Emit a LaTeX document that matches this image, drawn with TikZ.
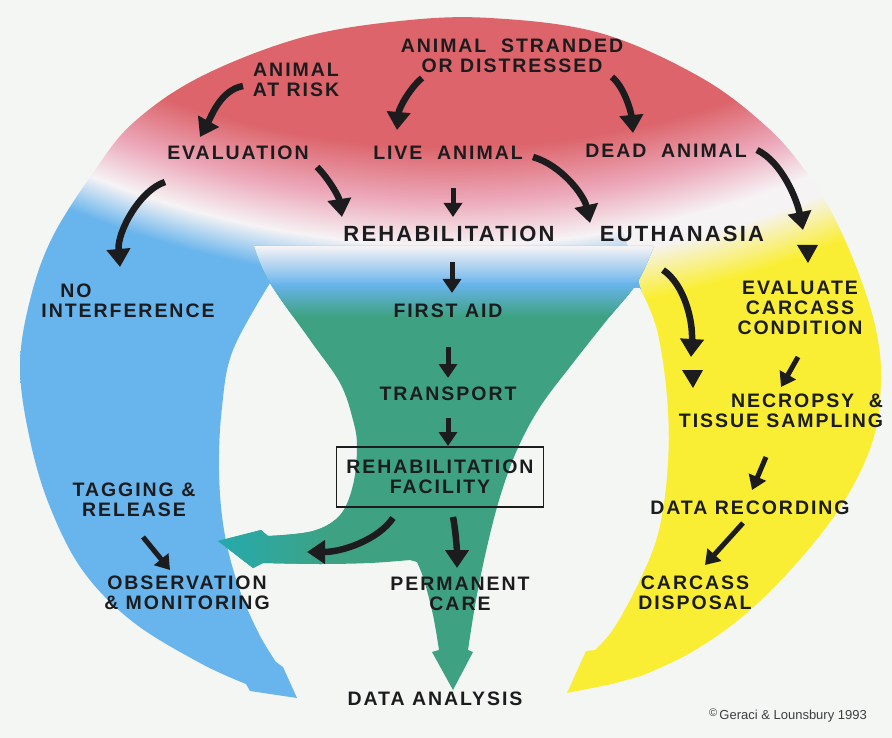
\documentclass[tikz,border=0pt]{standalone}
\usepackage{fontspec}
\setmainfont{Liberation Sans}
\newfontfamily\flowfont[LetterSpace=10]{Liberation Sans}
\usetikzlibrary{arrows.meta}

\definecolor{bgcol}{RGB}{244,246,243}
\definecolor{ink}{RGB}{28,28,30}
\definecolor{domered}{RGB}{220,100,106}
\definecolor{domepink}{RGB}{236,168,186}
\definecolor{domewhite}{RGB}{246,243,245}
\definecolor{skyblue}{RGB}{104,180,236}
\definecolor{sunyellow}{RGB}{250,238,52}
\definecolor{leafgreen}{RGB}{62,162,130}
\definecolor{tealtip}{RGB}{36,170,176}

\pgfdeclareradialshading{leftdome}{\pgfpointorigin}{color(0bp)=(domered); color(14.5bp)=(domered); color(15.4bp)=(domepink); color(16.15bp)=(domewhite); color(16.8bp)=(skyblue); color(50bp)=(skyblue)}
\pgfdeclareradialshading{rightdome}{\pgfpointorigin}{color(0bp)=(domered); color(14.5bp)=(domered); color(15.4bp)=(domepink); color(16.15bp)=(domewhite); color(16.5bp)=(domewhite); color(17.35bp)=(sunyellow); color(50bp)=(sunyellow)}

\tikzset{
  lbl/.style={font={\flowfont\bfseries\fontsize{19.5}{20}\selectfont}, text=ink, align=center, inner sep=0pt},
  biglbl/.style={lbl, font={\flowfont\bfseries\fontsize{22}{24}\selectfont}},
  bigarrow/.style={draw=ink, line width=6.5pt, -{Triangle[length=18pt,width=23pt]}},
  smallarrow/.style={draw=ink, line width=5pt, -{Triangle[length=14pt,width=18pt]}}
}

\begin{document}
\begin{tikzpicture}[x=1pt,y=-1pt]

    \useasboundingbox (0,0) rectangle (892,738);
    \fill[bgcol] (0,0) rectangle (892,738);

    \begin{scope}
        \clip (297,698) -- (250,691) -- plot[smooth,tension=0.6] coordinates {(246,684) (200,663) (133,622) (83,571) (50,507) (30,440) (20,367) (30,300) (52,238) (93,173) (133,123) (200,77) (300,38) (400,21) (490,18) (600,33) (700,77) (767,127) (807,173) (835,219) (860,277) (876,330) (881,380) (873,440) (843,503) (795,565) (742,617) (690,653) (641,676)}
            -- (612,684) -- (567,693) -- (586,651)
            -- plot[smooth,tension=0.6] coordinates {(595,650) (614,628) (640,580) (659,530) (668,463) (667,397) (657,330) (640,288)}
            -- (270,283)
            -- plot[smooth,tension=0.6] coordinates {(270,283) (233,350) (222,407) (219,470) (224,530) (238,585) (258,632) (276,662)}
            -- (283,667) -- cycle;
        \begin{scope}
            \clip (0,0) -- (620,0) -- (620,220) -- (642,292) -- (510,738) -- (0,738) -- cycle;
            \shade[shading=leftdome] (450,-724) circle[radius=1500pt];
        \end{scope}
        \begin{scope}
            \clip (892,0) -- (620,0) -- (620,220) -- (642,292) -- (510,738) -- (892,738) -- cycle;
            \shade[shading=rightdome] (450,-724) circle[radius=1500pt];
        \end{scope}
    \end{scope}

    \begin{scope}
        \clip (254,246) -- (654,246)
            -- plot[smooth,tension=0.6] coordinates {(654,246) (637,283) (607,320) (573,363) (540,407) (517,450) (500,497) (487,547) (476,600) (468,650)}
            -- (473,652) -- (453,690) -- (432,652)
            -- plot[smooth,tension=0.6] coordinates {(439,650) (433,615) (424,580) (417,562)}
            -- plot[smooth,tension=0.6] coordinates {(410,560) (370,563) (320,564) (263,563)}
            -- (253,568) -- (218,541) -- (261,530)
            -- plot[smooth,tension=0.6] coordinates {(268,536) (313,531) (340,515) (353,485) (357,447) (353,420) (340,383) (310,340) (270,283) (254,246)}
            -- cycle;
        \fill[leafgreen] (200,240) rectangle (660,700);
        \shade[top color=domewhite, bottom color=skyblue] (200,246) rectangle (660,285);
        \shade[top color=skyblue, bottom color=leafgreen] (200,284) rectangle (660,316);
        \shade[left color=tealtip, right color=leafgreen] (210,520) rectangle (335,580);
    \end{scope}

    \node[lbl] (stranded) at (512,56) {ANIMAL~~STRANDED\\OR DISTRESSED};
    \node[lbl] (risk) at (296,80) {ANIMAL\\AT RISK};
    \node[lbl] (eval) at (238,153) {EVALUATION};
    \node[lbl] (live) at (448,153) {LIVE~~ANIMAL};
    \node[lbl] (dead) at (666,151) {DEAD~~ANIMAL};
    \node[biglbl] (rehab) at (449,234) {REHABILITATION};
    \node[biglbl] (euth) at (682,234) {EUTHANASIA};
    \node[lbl, align=left] (noint) at (128,301) {\hspace*{19pt}NO\\INTERFERENCE};
    \node[lbl] (firstaid) at (448,311) {FIRST AID};
    \node[lbl] (transport) at (448,394) {TRANSPORT};
    \node[lbl, draw=ink, line width=1.1pt, minimum width=207pt, minimum height=60pt] (facility) at (440,477) {REHABILITATION\\FACILITY};
    \node[lbl] (permcare) at (460,594) {PERMANENT\\CARE};
    \node[lbl] (analysis) at (435,699) {DATA ANALYSIS};
    \node[lbl] (tagging) at (134,500) {TAGGING \&\\RELEASE};
    \node[lbl] (observ) at (187,593) {OBSERVATION\\\& MONITORING};
    \node[lbl] (evalcarc) at (800,308) {EVALUATE\\CARCASS\\CONDITION};
    \node[lbl, align=right] (necropsy) at (781,411) {NECROPSY~~\&\\TISSUE SAMPLING};
    \node[lbl] (datarec) at (750,508) {DATA RECORDING};
    \node[lbl] (disposal) at (695,593) {CARCASS\\DISPOSAL};
    \node[font=\fontsize{13}{13}\selectfont, text=ink!85, inner sep=0pt] (credit) at (788,716) {\raisebox{3pt}{\fontsize{11}{11}\selectfont ©}\,Geraci \& Lounsbury 1993};

    \draw[bigarrow] ([shift={(-53,6)}]risk.center) .. controls +(-22,4) and +(12,-22) .. ([shift={(-38,-16)}]eval.center);
    \draw[bigarrow] ([shift={(-90,22)}]stranded.center) .. controls +(-12,10) and +(2,-22) .. ([shift={(-51,-23)}]live.center);
    \draw[bigarrow] ([shift={(100,21)}]stranded.center) .. controls +(12,10) and +(-2,-22) .. ([shift={(-33,-18)}]dead.center);
    \draw[bigarrow] ([shift={(79,14)}]eval.center) .. controls +(12,12) and +(-3,-20) .. ([shift={(-107,-17)}]rehab.center);
    \draw[smallarrow] ([shift={(5,35)}]live.center) -- ([shift={(4,-17)}]rehab.center);
    \draw[bigarrow] ([shift={(85,4)}]live.center) .. controls +(28,8) and +(-6,-28) .. ([shift={(-92,-11)}]euth.center);
    \draw[bigarrow] ([shift={(91,-1)}]dead.center) .. controls +(25,12) and +(-6,-30) .. ([shift={(3,-78)}]evalcarc.center);
    \draw[bigarrow] ([shift={(-19,36)}]euth.center) .. controls +(22,15) and +(2,-35) .. ([shift={(-90,-54)}]necropsy.center);
    \draw[bigarrow] ([shift={(-73,29)}]eval.center) .. controls +(-25,8) and +(-3,-35) .. ([shift={(-8,-34)}]noint.center);
    \draw[smallarrow] ([shift={(3,28)}]rehab.center) -- ([shift={(4,-18)}]firstaid.center);
    \draw[smallarrow] ([shift={(0,36)}]firstaid.center) -- ([shift={(0,-16)}]transport.center);
    \draw[smallarrow] ([shift={(0,24)}]transport.center) -- ([shift={(8,-31)}]facility.center);
    \draw[bigarrow] ([shift={(13,40)}]facility.center) .. controls +(3,15) and +(0,-15) .. ([shift={(-3,-26)}]permcare.center);
    \draw[bigarrow] ([shift={(-47,41)}]facility.center) .. controls +(-15,22) and +(35,0) .. ([shift={(173,52)}]tagging.center);
    \draw[smallarrow] ([shift={(9,37)}]tagging.center) -- ([shift={(-17,-23)}]observ.center);
    \draw[smallarrow] ([shift={(-2,49)}]evalcarc.center) -- ([shift={(0,-24)}]necropsy.center);
    \draw[smallarrow] ([shift={(-15,46)}]necropsy.center) -- ([shift={(2,-18)}]datarec.center);
    \draw[smallarrow] ([shift={(-7,15)}]datarec.center) -- ([shift={(10,-28)}]disposal.center);

    \foreach \n/\dx/\dy in {evalcarc/8/-45, necropsy/-88/-23}
        \fill[ink] ([shift={(\dx,\dy)}]\n.center) -- ++(-11,-18) -- ++(21,0) -- cycle;

\end{tikzpicture}
\end{document}
